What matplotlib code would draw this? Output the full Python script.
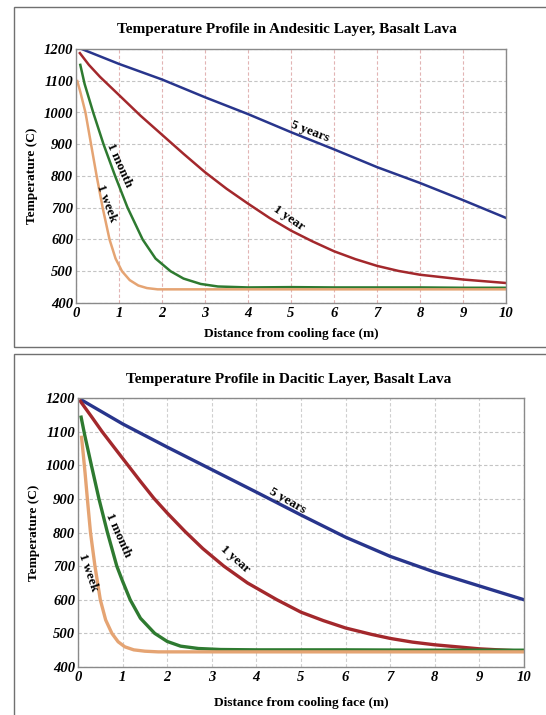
import matplotlib
matplotlib.use("Agg")
import matplotlib.pyplot as plt
from matplotlib.patches import Rectangle

plt.rcParams['font.family'] = ['Liberation Serif', 'DejaVu Serif']

# ---- top panel: andesitic layer ----
top_title = "Temperature Profile in Andesitic Layer, Basalt Lava"
top_5y_x = [0.15, 1, 2, 3, 4, 5, 6, 7, 8, 9, 10]
top_5y_t = [1199, 1153, 1104, 1048, 995, 938, 884, 828, 778, 724, 668]
top_1y_x = [0.09, 0.3, 0.56, 1, 1.5, 2, 2.5, 3, 3.5, 4, 4.5, 5, 5.5, 6, 6.5, 7, 7.5, 8, 9, 10]
top_1y_t = [1187, 1150, 1112, 1055, 990, 930, 870, 812, 760, 713, 668, 628, 594, 563, 538, 517, 501, 489, 474, 463]
top_1m_x = [0.1, 0.2, 0.4, 0.64, 0.91, 1.2, 1.55, 1.85, 2.2, 2.5, 2.9, 3.3, 4, 5, 6, 7, 8, 9, 10]
top_1m_t = [1150, 1090, 1000, 900, 800, 700, 600, 540, 500, 477, 460, 452, 449, 450, 449, 449, 449, 448, 448]
top_1w_x = [0.03, 0.1, 0.22, 0.35, 0.48, 0.62, 0.78, 0.92, 1.07, 1.25, 1.45, 1.65, 1.9, 2.5, 4, 6, 8, 10]
top_1w_t = [1099, 1065, 1000, 900, 800, 700, 600, 540, 500, 472, 455, 447, 443, 443, 443, 443, 443, 443]

# ---- bottom panel: dacitic layer ----
bot_title = "Temperature Profile in Dacitic Layer, Basalt Lava"
bot_5y_x = [0.08, 1, 2, 3, 4, 5, 6, 7, 8, 9, 10]
bot_5y_t = [1194, 1123, 1054, 987, 920, 852, 786, 729, 682, 641, 600]
bot_1y_x = [0.05, 0.3, 0.54, 0.8, 1.12, 1.4, 1.7, 2.0, 2.4, 2.8, 3.27, 3.8, 4.46, 5, 5.5, 6,
            6.58, 7, 7.5, 8, 9, 10]
bot_1y_t = [1191, 1145, 1100, 1055, 1000, 952, 902, 858, 803, 752, 700, 650, 600, 563, 538, 516,
            497, 485, 474, 466, 454, 447]
bot_1m_x = [0.07, 0.15, 0.3, 0.47, 0.66, 0.87, 1.0, 1.17, 1.4, 1.72, 2.0, 2.3, 2.7, 3.2, 4, 6, 8, 10]
bot_1m_t = [1143, 1090, 1000, 900, 800, 700, 655, 600, 545, 500, 476, 462, 455, 452, 451, 451, 450, 450]
bot_1w_x = [0.08, 0.12, 0.16, 0.21, 0.28, 0.38, 0.5, 0.62, 0.76, 0.9, 1.05, 1.25, 1.5, 1.8, 2.5, 4, 6, 8, 10]
bot_1w_t = [1083, 1030, 975, 900, 800, 700, 600, 540, 500, 475, 460, 451, 447, 445, 445, 445, 445, 445, 445]

x_ticks = list(range(0, 11))
y_ticks = list(range(400, 1201, 100))

col_5y = "#28358c"
col_1y = "#a3282c"
col_1m = "#2e7a30"
col_1w = "#e5a473"


def setup(ax, vgrid_col, xlabpad):
    ax.set_xlim(0, 10)
    ax.set_ylim(400, 1200)
    ax.set_xticks(x_ticks)
    ax.set_yticks(y_ticks)
    ax.tick_params(length=0, labelsize=10.5)
    ax.tick_params(axis='x', pad=3)
    ax.tick_params(axis='y', pad=2)
    for lab in ax.get_xticklabels() + ax.get_yticklabels():
        lab.set_fontweight('bold')
        lab.set_fontstyle('italic')
    ax.xaxis.grid(True, color=vgrid_col, ls=(0, (3, 2)), lw=0.8)
    ax.yaxis.grid(True, color="#c4c4c4", ls=(0, (3, 2)), lw=0.8)
    for s in ax.spines.values():
        s.set_color("#8a8a8a")
        s.set_linewidth(1.0)
    ax.set_xlabel("Distance from cooling face (m)", fontsize=9.6, fontweight='bold', labelpad=xlabpad)
    ax.set_ylabel("Temperature (C)", fontsize=9.6, fontweight='bold', labelpad=4)


W, H = 546, 715
fig = plt.figure(figsize=(W / 100, H / 100), dpi=100)

# panel frames
fig.patches.append(Rectangle((14 / W, 1 - 347 / H), 1.0, (347 - 7) / H, transform=fig.transFigure,
                             fill=False, ec="#707070", lw=1.0))
fig.patches.append(Rectangle((14 / W, -0.1), 1.0, 0.1 + (715 - 354) / H, transform=fig.transFigure,
                             fill=False, ec="#707070", lw=1.0))

lab = dict(fontsize=9.5, fontweight='bold', ha='center', va='center')

# top
ax1 = fig.add_axes([76 / W, 1 - 303 / H, 430 / W, 254 / H])
ax1.plot(top_5y_x, top_5y_t, color=col_5y, lw=1.8)
ax1.plot(top_1y_x, top_1y_t, color=col_1y, lw=1.8)
ax1.plot(top_1m_x, top_1m_t, color=col_1m, lw=1.8)
ax1.plot(top_1w_x, top_1w_t, color=col_1w, lw=1.8)
setup(ax1, "#e2b4b4", 6)
fig.text(287 / W, 1 - 30 / H, top_title, ha='center', va='center', fontsize=11, fontweight='bold')
ax1.text(5.45, 940, "5 years", rotation=-21, **lab)
ax1.text(4.95, 668, "1 year", rotation=-35, **lab)
ax1.text(1.0, 834, "1 month", rotation=-66, **lab)
ax1.text(0.71, 713, "1 week", rotation=-70, **lab)

# bottom
ax2 = fig.add_axes([78 / W, 1 - 667 / H, 446 / W, 269 / H])
ax2.plot(bot_5y_x, bot_5y_t, color=col_5y, lw=2.4)
ax2.plot(bot_1y_x, bot_1y_t, color=col_1y, lw=2.4)
ax2.plot(bot_1m_x, bot_1m_t, color=col_1m, lw=2.4)
ax2.plot(bot_1w_x, bot_1w_t, color=col_1w, lw=2.4)
setup(ax2, "#cfcfcf", 9)
fig.text(289 / W, 1 - 380 / H, bot_title, ha='center', va='center', fontsize=11, fontweight='bold')
ax2.text(4.7, 895, "5 years", rotation=-30, **lab)
ax2.text(3.52, 721, "1 year", rotation=-42, **lab)
ax2.text(0.9, 791, "1 month", rotation=-66, **lab)
ax2.text(0.22, 680, "1 week", rotation=-71, **lab)

fig.savefig("out.png", dpi=100)
